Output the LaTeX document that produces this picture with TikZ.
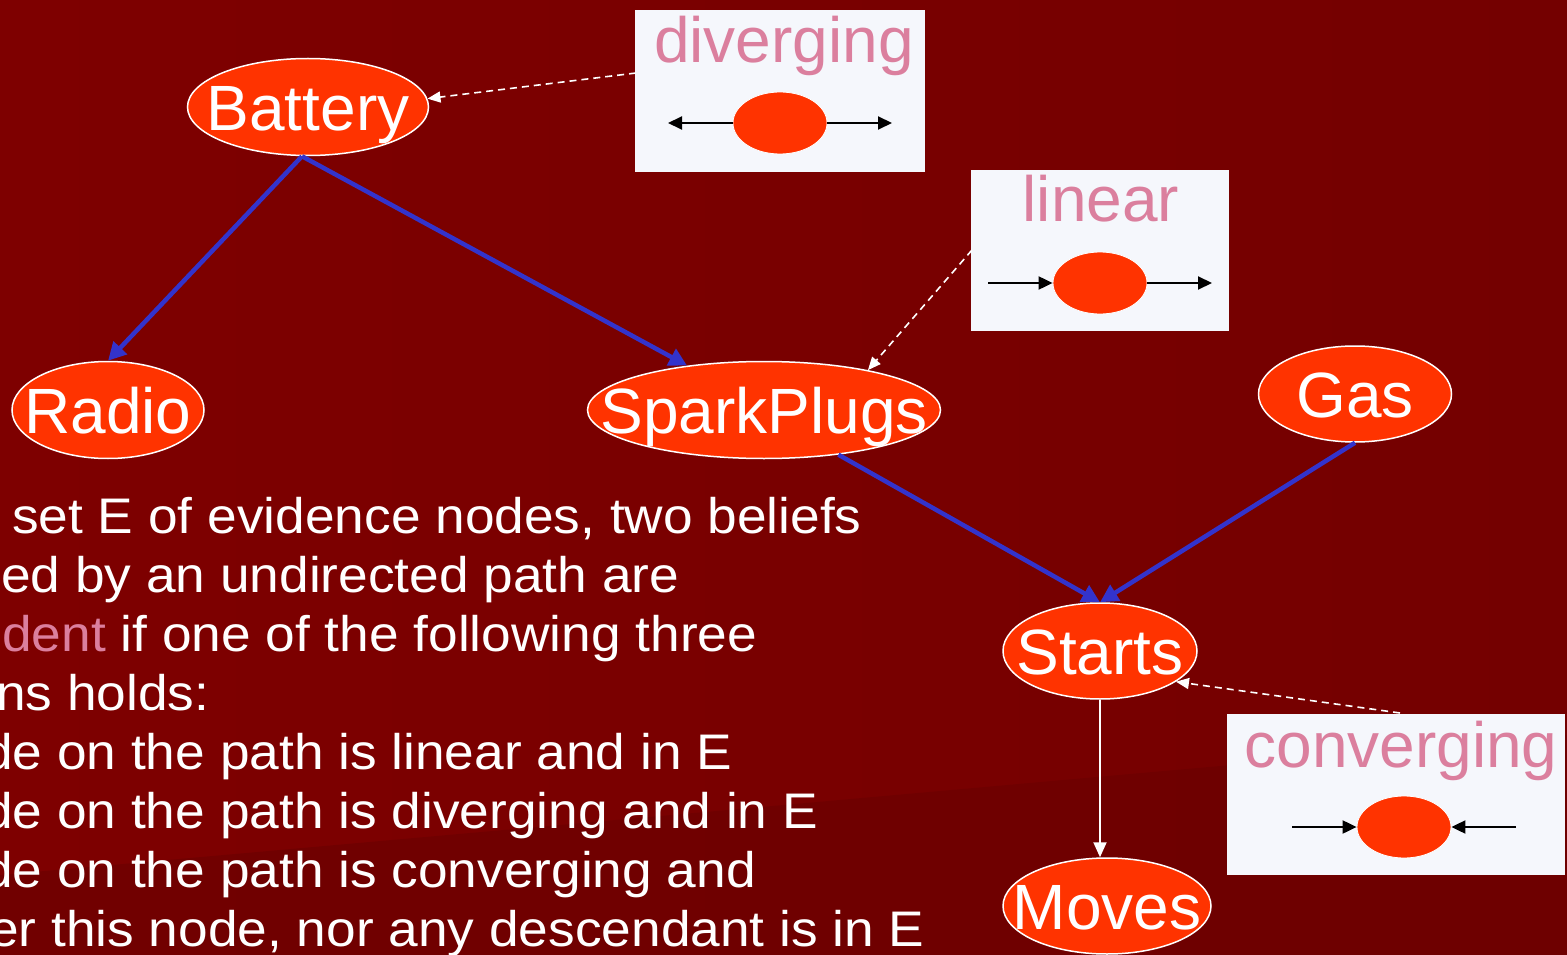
\documentclass[tikz,border=0pt]{standalone}
\usepackage{fontspec}
\setmainfont{Liberation Sans}
\usetikzlibrary{shapes.geometric,arrows.meta}
\definecolor{bgA}{HTML}{7E0000}
\definecolor{bgB}{HTML}{740000}
\definecolor{bgC}{HTML}{6C0000}
\definecolor{nodeRed}{HTML}{FF3300}
\definecolor{edgeBlue}{HTML}{3333CC}
\definecolor{pinkText}{HTML}{DB7F9E}
\definecolor{boxFill}{HTML}{F5F7FC}
\newcommand\ctrtext[1]{\raisebox{-0.36em}[0pt][0pt]{\makebox[0pt]{#1}}}
\newcommand\widetext[1]{\scalebox{1.065}[1]{#1}}
\begin{document}
\begin{tikzpicture}[x=1pt,y=-1pt,
  bignode/.style={ellipse, draw=white, line width=1.5pt, fill=nodeRed, text=white,
    inner sep=0pt, font=\fontsize{64}{64}\selectfont},
  smallnode/.style={ellipse, draw=white, line width=0.8pt, fill=nodeRed, inner sep=0pt,
    minimum width=94pt, minimum height=62pt},
  keybox/.style={rectangle, fill=boxFill, inner sep=0pt, anchor=north west},
  keytext/.style={text=pinkText, font=\fontsize{64}{64}\selectfont, inner sep=0pt, anchor=base},
  bodytext/.style={text=white, font=\fontsize{50}{50}\selectfont, inner sep=0pt, anchor=base west},
  blueedge/.style={draw=edgeBlue, line width=4.5pt, -{Triangle[length=18pt,width=18pt]}},
  whiteedge/.style={draw=white, line width=2pt, -{Triangle[length=15pt,width=13pt]}},
  dashedge/.style={draw=white, line width=1.6pt, dash pattern=on 7pt off 5pt, -{Triangle[length=13pt,width=11pt]}},
  blackedge/.style={draw=black, line width=2pt, -{Triangle[length=14pt,width=13pt]}}
]
\useasboundingbox (0,0) rectangle (1567,955);
\clip (0,0) rectangle (1567,955);
% background
\shade[left color=bgA, right color=bgB] (0,0) rectangle (1567,955);
\fill[bgC, opacity=0.7] (0,875) -- (1567,735) -- (1567,955) -- (0,955) -- cycle;

% key boxes
\node[keybox, minimum width=290pt, minimum height=162pt] (divbox) at (635,10) {};
\node[keytext] (divtext) at (784,63) {diverging};
\node[smallnode] (divell) at (780,123) {};
\coordinate (divL) at (668,123);
\coordinate (divR) at (892,123);
\draw[blackedge] (divell.west) -- (divL);
\draw[blackedge] (divell.east) -- (divR);

\node[keybox, minimum width=258pt, minimum height=161pt] (linbox) at (971,170) {};
\node[keytext] (lintext) at (1101,222) {linear};
\node[smallnode] (linell) at (1100,283) {};
\coordinate (linL) at (988,283);
\coordinate (linR) at (1212,283);
\draw[blackedge] (linL) -- (linell.west);
\draw[blackedge] (linell.east) -- (linR);

\node[keybox, minimum width=338pt, minimum height=161pt] (conbox) at (1227,714) {};
\node[keytext] (context) at (1401,767) {converging};
\node[smallnode] (conell) at (1404,827) {};
\coordinate (conL) at (1292,827);
\coordinate (conR) at (1516,827);
\draw[blackedge] (conL) -- (conell.west);
\draw[blackedge] (conR) -- (conell.east);

% main nodes
\node[bignode, minimum width=241pt, minimum height=97pt] (battery) at (308,107) {\ctrtext{Battery}};
\node[bignode, minimum width=192pt, minimum height=97pt] (radio) at (108,410) {\ctrtext{Radio}};
\node[bignode, minimum width=353pt, minimum height=97pt] (spark) at (764,410) {\ctrtext{SparkPlugs}};
\node[bignode, minimum width=193pt, minimum height=96pt] (gas) at (1355,394) {\ctrtext{Gas}};
\node[bignode, minimum width=194pt, minimum height=96pt] (starts) at (1100,651) {\ctrtext{Starts}};
\node[bignode, minimum width=208pt, minimum height=96pt] (moves) at (1107,906) {\ctrtext{Moves}};

% edges
\draw[blueedge] ([xshift=-6pt]battery.south) -- (radio.north);
\draw[blueedge] ([xshift=-6pt]battery.south) -- (spark.150);
\draw[blueedge] (spark.-31) -- (starts.north);
\draw[blueedge] (gas.south) -- (starts.north);
\draw[whiteedge] (starts.south) -- (starts.south |- moves.north);

% dashed pointers
\coordinate (divsrc) at (636,73);
\coordinate (linsrc) at (972,250);
\coordinate (consrc) at (1400,713);
\draw[dashedge] (divsrc) -- (battery.4);
\draw[dashedge] (linsrc) -- (spark.21);
\draw[dashedge] (consrc) -- (starts.-22);

% body text
\node[bodytext] (t1) at (12,533) {\widetext{set E of evidence nodes, two beliefs}};
\node[bodytext] (t2) at (1,592) {\widetext{ed by an undirected path are}};
\node[bodytext] (t3) at (2,651) {\widetext{\textcolor{pinkText}{dent} if one of the following three}};
\node[bodytext] (t4) at (-4,710) {\widetext{ns holds:}};
\node[bodytext] (t5) at (-17,769) {\widetext{de on the path is linear and in E}};
\node[bodytext] (t6) at (-17,828) {\widetext{de on the path is diverging and in E}};
\node[bodytext] (t7) at (-17,887) {\widetext{de on the path is converging and}};
\node[bodytext] (t8) at (-11,946) {\widetext{er this node, nor any descendant is in E}};
\end{tikzpicture}
\end{document}
